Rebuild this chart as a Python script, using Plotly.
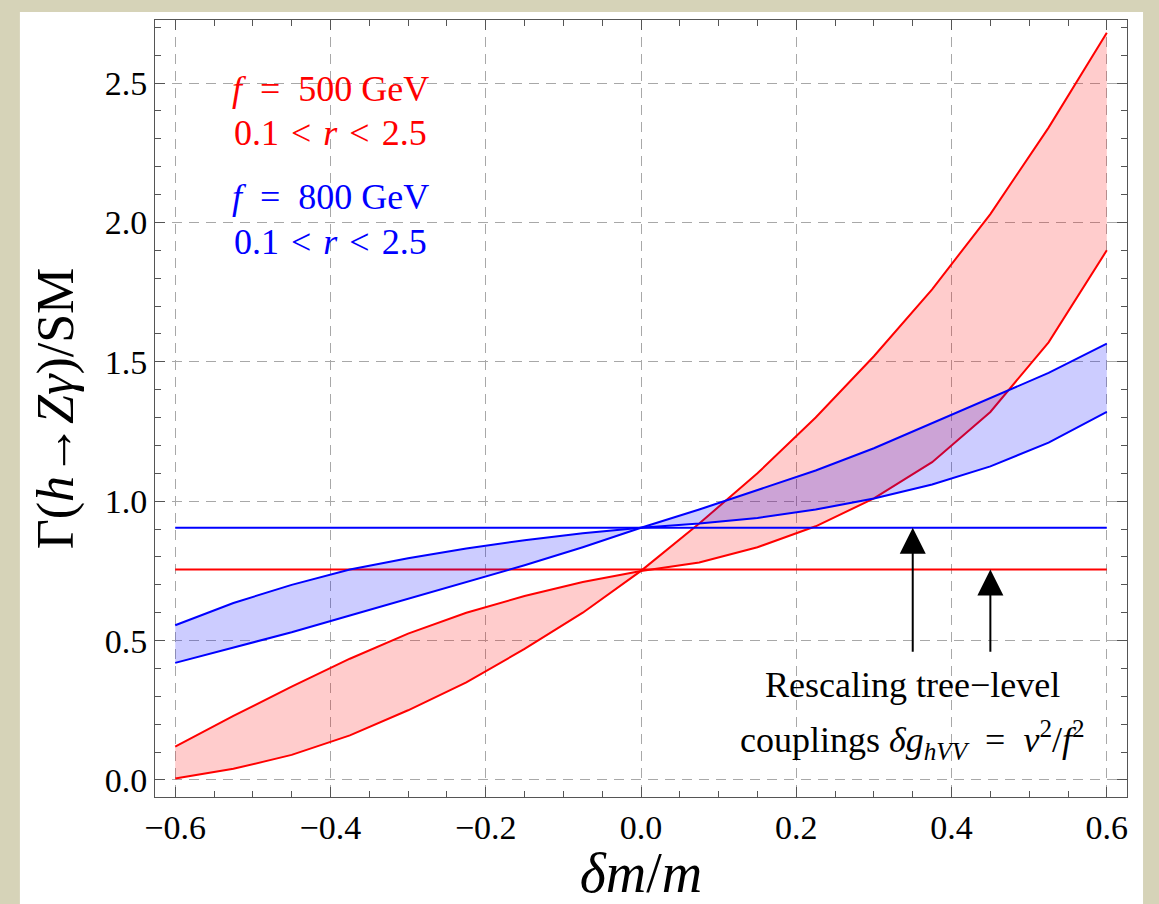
import plotly.graph_objects as go

# ---- data ----
dm = [-0.6, -0.525, -0.45, -0.375, -0.3, -0.225, -0.15, -0.075, 0.0,
      0.075, 0.15, 0.225, 0.3, 0.375, 0.45, 0.525, 0.6]

red_steep = [0.005, 0.04, 0.09, 0.16, 0.25, 0.35, 0.47, 0.60, 0.75,
             0.92, 1.10, 1.30, 1.52, 1.76, 2.03, 2.34, 2.68]
red_flat = [0.12, 0.23, 0.335, 0.435, 0.525, 0.60, 0.66, 0.71, 0.75,
            0.78, 0.835, 0.91, 1.01, 1.14, 1.32, 1.57, 1.90]

blue_steep = [0.42, 0.475, 0.53, 0.59, 0.65, 0.71, 0.77, 0.835, 0.905,
              0.97, 1.04, 1.11, 1.19, 1.28, 1.37, 1.46, 1.565]
blue_flat = [0.555, 0.635, 0.70, 0.755, 0.795, 0.83, 0.86, 0.885, 0.905,
             0.92, 0.94, 0.97, 1.01, 1.06, 1.125, 1.21, 1.32]

tree_x = [-0.6, 0.6]
red_tree = 0.755
blue_tree = 0.905

arrow_x = [0.35, 0.45]
arrow_base = 0.46

x_ticks = [-0.6, -0.4, -0.2, 0.0, 0.2, 0.4, 0.6]
y_ticks = [0.0, 0.5, 1.0, 1.5, 2.0, 2.5]

RED = "#ff0000"
BLUE = "#0000ff"
FONT = "Liberation Serif"
SP = "\u2002"
HS = "\u200a"

fig = go.Figure()

# red band
fig.add_trace(go.Scatter(x=dm, y=red_flat, mode="lines",
                         line=dict(color=RED, width=2), hoverinfo="skip"))
fig.add_trace(go.Scatter(x=dm, y=red_steep, mode="lines", fill="tonexty",
                         fillcolor="rgba(255,0,0,0.2)",
                         line=dict(color=RED, width=2), hoverinfo="skip"))
fig.add_trace(go.Scatter(x=tree_x, y=[red_tree] * 2, mode="lines",
                         line=dict(color=RED, width=2), hoverinfo="skip"))
# blue band
fig.add_trace(go.Scatter(x=dm, y=blue_flat, mode="lines",
                         line=dict(color=BLUE, width=2), hoverinfo="skip"))
fig.add_trace(go.Scatter(x=dm, y=blue_steep, mode="lines", fill="tonexty",
                         fillcolor="rgba(0,0,255,0.2)",
                         line=dict(color=BLUE, width=2), hoverinfo="skip"))
fig.add_trace(go.Scatter(x=tree_x, y=[blue_tree] * 2, mode="lines",
                         line=dict(color=BLUE, width=2), hoverinfo="skip"))

# arrows (shaft + head marker)
for ax_, tgt in zip(arrow_x, [blue_tree, red_tree]):
    fig.add_trace(go.Scatter(x=[ax_, ax_], y=[arrow_base, tgt - 0.05], mode="lines",
                             line=dict(color="black", width=2), hoverinfo="skip"))
    fig.add_trace(go.Scatter(x=[ax_], y=[tgt], mode="markers",
                             marker=dict(symbol="arrow-up", size=26, color="black",
                                         line=dict(width=0)),
                             hoverinfo="skip"))

# white panel behind chart
fig.add_shape(type="rect", xref="paper", yref="paper",
              x0=-0.139, x1=1.0165, y0=-0.14, y1=1.0103,
              fillcolor="white", line=dict(width=0), layer="below")

fig.add_annotation(x=0.35, y=0.34, xref="x", yref="y", showarrow=False,
                   text="Rescaling tree\u2212level",
                   font=dict(family=FONT, size=36, color="black"))
fig.add_annotation(x=0.35, y=0.145, xref="x", yref="y", showarrow=False,
                   text=f"couplings <i>δg</i><sub><i>hVV</i></sub>{SP}={SP}<i>v</i><sup>2</sup>/<i>f</i><sup>2</sup>",
                   font=dict(family=FONT, size=36, color="black"))

# legend-like labels
r_text = f"0.1 {HS}&lt;{HS} <i>r</i> {HS}&lt;{HS} 2.5"
fig.add_annotation(x=-0.40, y=2.48, xref="x", yref="y", showarrow=False,
                   text=f"<i>f</i>{SP}={SP}500 GeV", font=dict(family=FONT, size=36, color=RED))
fig.add_annotation(x=-0.40, y=2.32, xref="x", yref="y", showarrow=False,
                   text=r_text, font=dict(family=FONT, size=36, color=RED))
fig.add_annotation(x=-0.40, y=2.09, xref="x", yref="y", showarrow=False,
                   text=f"<i>f</i>{SP}={SP}800 GeV", font=dict(family=FONT, size=36, color=BLUE))
fig.add_annotation(x=-0.40, y=1.93, xref="x", yref="y", showarrow=False,
                   text=r_text, font=dict(family=FONT, size=36, color=BLUE))

axis_common = dict(
    showline=True, linecolor="#555555", linewidth=1, mirror="allticks",
    ticks="inside", ticklen=10, tickwidth=1, tickcolor="#555555",
    showgrid=True, gridcolor="#a8a8a8", gridwidth=1, griddash="10px,7px",
    zeroline=False, tickfont=dict(family=FONT, size=34, color="black"),
)

fig.update_xaxes(range=[-0.626, 0.626], tickvals=x_ticks,
                 ticktext=[f"{v:.1f}".replace("-", "\u2212") for v in x_ticks],
                 minor=dict(dtick=0.05, ticks="inside", ticklen=6,
                            tickcolor="#555555", showgrid=False),
                 title=dict(text="<i>δm</i>/<i>m</i>", standoff=6,
                            font=dict(family=FONT, size=56, color="black")),
                 **axis_common)
fig.update_yaxes(range=[-0.061, 2.726], tickvals=y_ticks,
                 ticktext=[f"{v:.1f}" for v in y_ticks],
                 minor=dict(dtick=0.1, ticks="inside", ticklen=6,
                            tickcolor="#555555", showgrid=False),
                 title=dict(text="Γ(<i>h</i>→<i>Zγ</i>)/SM", standoff=14,
                            font=dict(family=FONT, size=52, color="black")),
                 **axis_common)

fig.update_layout(
    width=1159, height=904,
    margin=dict(l=155, r=32, t=20, b=107),
    paper_bgcolor="#d6d3b8", plot_bgcolor="white",
    showlegend=False,
)

fig.write_html("out.html")
